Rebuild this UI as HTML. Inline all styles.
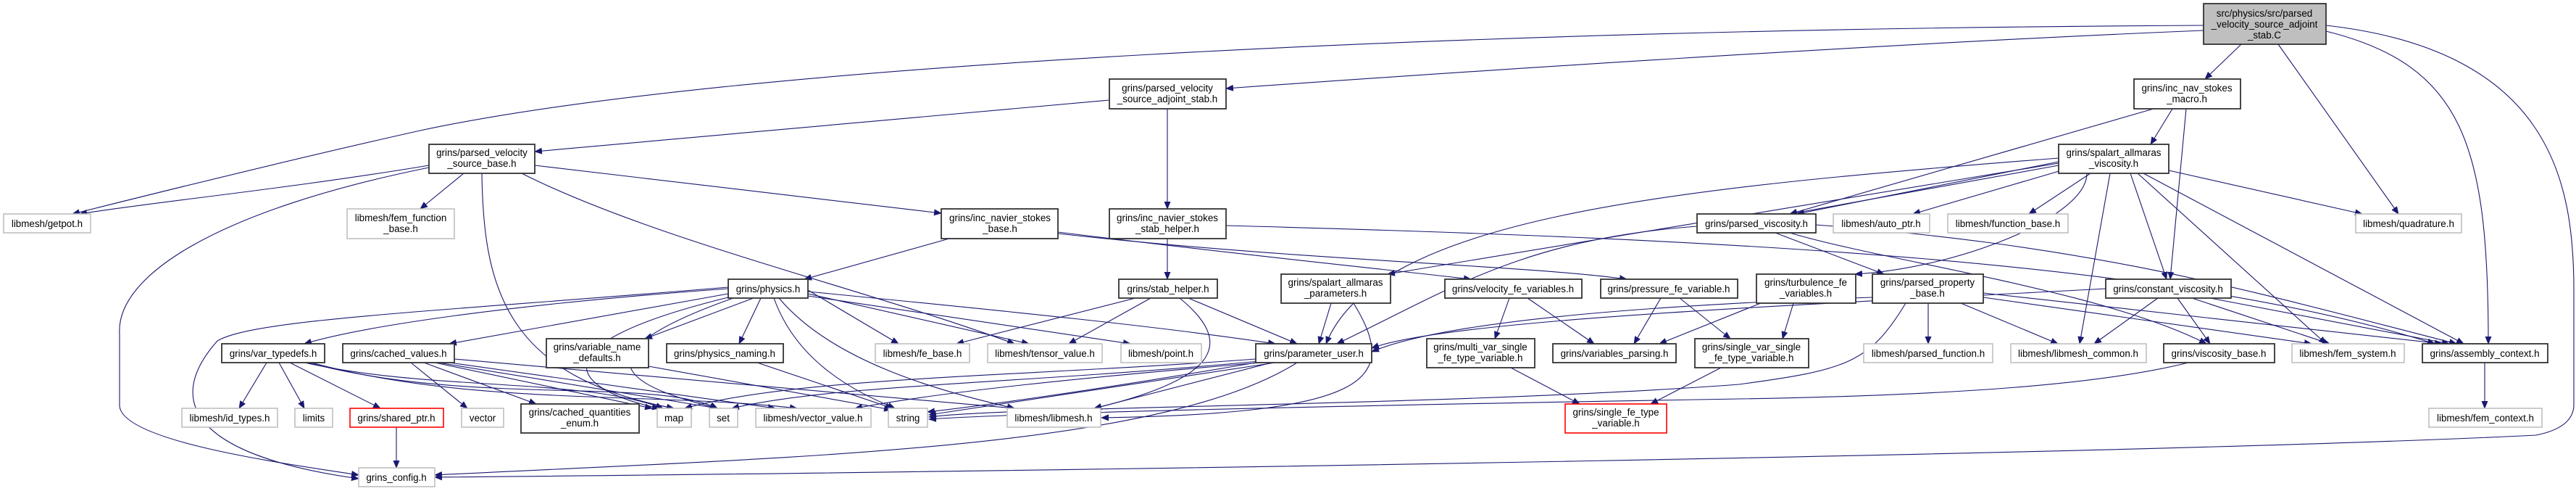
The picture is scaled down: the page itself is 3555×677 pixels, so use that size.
<!DOCTYPE html>
<html><head><meta charset="utf-8"><style>
html,body{margin:0;padding:0;background:#fff;}
svg{display:block;}
text{font-family:"Liberation Sans",sans-serif;font-size:13.4px;fill:#000;}
.n rect{fill:#fff;stroke:#333;stroke-width:1.8;}
.g rect{fill:#fff;stroke:#bfbfbf;stroke-width:1.6;}
.r rect{fill:#fff;stroke:#ff0000;stroke-width:1.6;}
.e path{fill:none;stroke:#191970;stroke-width:1.1;marker-end:url(#a);}
</style></head><body>
<svg width="3555" height="677" viewBox="0 0 3555 677" xmlns="http://www.w3.org/2000/svg">
<defs><marker id="a" markerUnits="userSpaceOnUse" markerWidth="11" markerHeight="9" refX="10" refY="4.5" orient="auto"><path d="M0,0 L11,4.5 L0,9 z" fill="#191970"/></marker></defs>
<g class="e">
<path d="M3041,35 C2000,40 1000,90 580,180 C400,220 200,270 100,295"/>
<path d="M3041,42 C2600,60 2000,100 1692,122"/>
<path d="M3093,61 L3043,109"/>
<path d="M3144,61 L3310,295"/>
<path d="M3210,43 C3400,90 3434,200 3434,474"/>
<path d="M3210,35 C3520,70 3552,250 3552,400 L3552,560 Q3550,590 3500,600 C3000,625 1500,650 600,658"/>
<path d="M1531,138 L738,209"/>
<path d="M1611,150 L1611,288"/>
<path d="M592,228 C400,260 200,280 110,295"/>
<path d="M640,239 L580,288"/>
<path d="M592,231 C300,290 160,380 165,460 L165,560 C170,610 400,640 495,655"/>
<path d="M665,239 C667,400 700,520 930,563"/>
<path d="M738,228 L1299,294"/>
<path d="M720,239 C900,330 1200,400 1400,474"/>
<path d="M1310,329 L1110,385"/>
<path d="M1460,320 C1700,350 1900,370 2030,385"/>
<path d="M1460,322 C1800,360 2100,365 2245,385"/>
<path d="M1611,329 L1611,385"/>
<path d="M1692,311 C2400,330 3000,360 3360,474"/>
<path d="M1567,411 L1320,474"/>
<path d="M1588,411 L1475,474"/>
<path d="M1640,411 L1790,474"/>
<path d="M1628,411 C1700,470 1690,520 1510,563"/>
<path d="M1837,418 L1820,474"/>
<path d="M1868,418 C1930,520 1900,570 1520,576"/>
<path d="M2083,411 L2063,467"/>
<path d="M2108,411 L2200,474"/>
<path d="M2292,411 L2255,474"/>
<path d="M2318,411 L2388,467"/>
<path d="M2085,507 L2180,557"/>
<path d="M2375,507 L2278,557"/>
<path d="M1733,500 C1500,540 1350,560 1280,568"/>
<path d="M1760,500 L1282,572"/>
<path d="M1733,495 C1400,520 1100,520 945,563"/>
<path d="M1738,498 C1400,530 1150,530 1010,563"/>
<path d="M1740,500 C1500,520 1300,540 1180,563"/>
<path d="M1755,500 L1510,563"/>
<path d="M1790,500 C1600,620 1100,630 600,655"/>
<path d="M1005,398 C700,420 500,450 420,474"/>
<path d="M1005,405 L620,474"/>
<path d="M1040,411 L890,467"/>
<path d="M1050,411 L1020,474"/>
<path d="M1005,396 C600,430 350,440 300,470 C220,560 280,630 495,660"/>
<path d="M1115,400 L1240,474"/>
<path d="M1115,405 L1420,474"/>
<path d="M1115,408 L1560,474"/>
<path d="M1115,402 C1400,430 1600,450 1760,474"/>
<path d="M1068,411 C1100,500 1180,540 1235,563"/>
<path d="M1075,411 C1150,500 1300,540 1400,563"/>
<path d="M1005,410 C720,480 800,540 910,563"/>
<path d="M1012,411 C760,500 900,540 990,563"/>
<path d="M368,500 L330,563"/>
<path d="M385,500 L420,563"/>
<path d="M400,500 L525,563"/>
<path d="M420,500 C600,540 800,520 915,563"/>
<path d="M425,500 C650,560 900,520 990,563"/>
<path d="M430,500 C650,560 900,540 1100,563"/>
<path d="M567,500 L645,563"/>
<path d="M585,500 L740,557"/>
<path d="M600,500 L900,563"/>
<path d="M605,500 L990,563"/>
<path d="M620,500 L1070,563"/>
<path d="M627,495 L1400,563"/>
<path d="M895,505 L1230,565"/>
<path d="M1045,500 L1232,563"/>
<path d="M547,589 L547,645"/>
<path d="M2998,150 L2968,199"/>
<path d="M2972,150 L2470,295"/>
<path d="M3017,150 L2995,385"/>
<path d="M2841,223 L2480,295"/>
<path d="M2841,228 L2470,295"/>
<path d="M2845,235 L2640,295"/>
<path d="M2885,239 L2800,295"/>
<path d="M2993,235 L3260,295"/>
<path d="M2841,218 C2300,260 1900,300 1830,474"/>
<path d="M2841,225 L1915,378"/>
<path d="M2880,239 C2880,300 2700,370 2560,378"/>
<path d="M2940,239 L2990,385"/>
<path d="M2912,239 L2870,474"/>
<path d="M2950,239 L3210,474"/>
<path d="M2958,239 L3400,474"/>
<path d="M2450,321 L2600,378"/>
<path d="M2342,312 C2100,330 2000,400 1845,474"/>
<path d="M2470,321 C2600,360 2900,400 3045,474"/>
<path d="M2506,310 C2900,340 3100,400 3390,474"/>
<path d="M2430,418 L2290,474"/>
<path d="M2475,418 L2460,467"/>
<path d="M2584,410 C2300,420 2000,440 1893,485"/>
<path d="M2661,418 L2661,474"/>
<path d="M2706,418 L2840,474"/>
<path d="M2737,410 L3190,474"/>
<path d="M2737,404 L3370,474"/>
<path d="M2630,418 C2580,500 2550,510 2400,530 C2000,560 1400,560 1282,575"/>
<path d="M2906,398 C2500,420 2000,440 1893,480"/>
<path d="M2978,411 L2890,474"/>
<path d="M3005,411 L3050,474"/>
<path d="M3025,411 L3215,474"/>
<path d="M3050,411 L3380,474"/>
<path d="M3020,500 C2900,530 2700,545 2400,550 C1800,560 1400,570 1282,578"/>
<path d="M3429,500 L3429,563"/>
</g>
<g text-anchor="middle">
<g class="n"><rect x="3041" y="5" width="169" height="56" style="fill:#bfbfbf"/><text x="3125" y="23">src/physics/src/parsed</text><text x="3125" y="38">_velocity_source_adjoint</text><text x="3125" y="53">_stab.C</text></g>
<g class="n"><rect x="1531" y="109" width="161" height="41"/><text x="1611" y="126">grins/parsed_velocity</text><text x="1611" y="141">_source_adjoint_stab.h</text></g>
<g class="n"><rect x="2945" y="109" width="147" height="41"/><text x="3018" y="126">grins/inc_nav_stokes</text><text x="3018" y="141">_macro.h</text></g>
<g class="n"><rect x="592" y="199" width="146" height="40"/><text x="665" y="215">grins/parsed_velocity</text><text x="665" y="230">_source_base.h</text></g>
<g class="n"><rect x="2841" y="199" width="152" height="40"/><text x="2917" y="215">grins/spalart_allmaras</text><text x="2917" y="230">_viscosity.h</text></g>
<g class="g"><rect x="5" y="295" width="120" height="26"/><text x="65" y="313">libmesh/getpot.h</text></g>
<g class="g"><rect x="479" y="288" width="148" height="41"/><text x="553" y="305">libmesh/fem_function</text><text x="553" y="320">_base.h</text></g>
<g class="n"><rect x="1299" y="288" width="161" height="41"/><text x="1380" y="305">grins/inc_navier_stokes</text><text x="1380" y="320">_base.h</text></g>
<g class="n"><rect x="1531" y="288" width="161" height="41"/><text x="1611" y="305">grins/inc_navier_stokes</text><text x="1611" y="320">_stab_helper.h</text></g>
<g class="n"><rect x="2342" y="295" width="164" height="26"/><text x="2424" y="313">grins/parsed_viscosity.h</text></g>
<g class="g"><rect x="2530" y="295" width="133" height="26"/><text x="2596" y="313">libmesh/auto_ptr.h</text></g>
<g class="g"><rect x="2688" y="295" width="166" height="26"/><text x="2771" y="313">libmesh/function_base.h</text></g>
<g class="g"><rect x="3251" y="295" width="146" height="26"/><text x="3324" y="313">libmesh/quadrature.h</text></g>
<g class="n"><rect x="1005" y="385" width="110" height="26"/><text x="1060" y="403">grins/physics.h</text></g>
<g class="n"><rect x="1544" y="385" width="136" height="26"/><text x="1612" y="403">grins/stab_helper.h</text></g>
<g class="n"><rect x="1768" y="378" width="151" height="40"/><text x="1843" y="394">grins/spalart_allmaras</text><text x="1843" y="409">_parameters.h</text></g>
<g class="n"><rect x="1994" y="385" width="189" height="26"/><text x="2088" y="403">grins/velocity_fe_variables.h</text></g>
<g class="n"><rect x="2209" y="385" width="189" height="26"/><text x="2303" y="403">grins/pressure_fe_variable.h</text></g>
<g class="n"><rect x="2424" y="378" width="137" height="40"/><text x="2492" y="394">grins/turbulence_fe</text><text x="2492" y="409">_variables.h</text></g>
<g class="n"><rect x="2584" y="378" width="153" height="40"/><text x="2660" y="394">grins/parsed_property</text><text x="2660" y="409">_base.h</text></g>
<g class="n"><rect x="2906" y="385" width="173" height="26"/><text x="2992" y="403">grins/constant_viscosity.h</text></g>
<g class="n"><rect x="306" y="474" width="142" height="26"/><text x="377" y="492">grins/var_typedefs.h</text></g>
<g class="n"><rect x="473" y="474" width="154" height="26"/><text x="550" y="492">grins/cached_values.h</text></g>
<g class="n"><rect x="754" y="467" width="141" height="40"/><text x="824" y="483">grins/variable_name</text><text x="824" y="498">_defaults.h</text></g>
<g class="n"><rect x="920" y="474" width="161" height="26"/><text x="1000" y="492">grins/physics_naming.h</text></g>
<g class="g"><rect x="1208" y="474" width="130" height="26"/><text x="1273" y="492">libmesh/fe_base.h</text></g>
<g class="g"><rect x="1363" y="474" width="158" height="26"/><text x="1442" y="492">libmesh/tensor_value.h</text></g>
<g class="g"><rect x="1547" y="474" width="111" height="26"/><text x="1602" y="492">libmesh/point.h</text></g>
<g class="n"><rect x="1733" y="474" width="160" height="26"/><text x="1813" y="492">grins/parameter_user.h</text></g>
<g class="n"><rect x="1969" y="467" width="149" height="40"/><text x="2043" y="483">grins/multi_var_single</text><text x="2043" y="498">_fe_type_variable.h</text></g>
<g class="n"><rect x="2143" y="474" width="170" height="26"/><text x="2228" y="492">grins/variables_parsing.h</text></g>
<g class="n"><rect x="2339" y="467" width="157" height="40"/><text x="2417" y="483">grins/single_var_single</text><text x="2417" y="498">_fe_type_variable.h</text></g>
<g class="g"><rect x="2572" y="474" width="178" height="26"/><text x="2661" y="492">libmesh/parsed_function.h</text></g>
<g class="g"><rect x="2775" y="474" width="187" height="26"/><text x="2868" y="492">libmesh/libmesh_common.h</text></g>
<g class="n"><rect x="2986" y="474" width="153" height="26"/><text x="3062" y="492">grins/viscosity_base.h</text></g>
<g class="g"><rect x="3163" y="474" width="155" height="26"/><text x="3240" y="492">libmesh/fem_system.h</text></g>
<g class="n"><rect x="3343" y="474" width="173" height="26"/><text x="3429" y="492">grins/assembly_context.h</text></g>
<g class="g"><rect x="251" y="563" width="132" height="26"/><text x="317" y="581">libmesh/id_types.h</text></g>
<g class="g"><rect x="407" y="563" width="52" height="26"/><text x="433" y="581">limits</text></g>
<g class="r"><rect x="483" y="563" width="129" height="26"/><text x="547" y="581">grins/shared_ptr.h</text></g>
<g class="g"><rect x="637" y="563" width="58" height="26"/><text x="666" y="581">vector</text></g>
<g class="n"><rect x="719" y="557" width="163" height="40"/><text x="800" y="573">grins/cached_quantities</text><text x="800" y="588">_enum.h</text></g>
<g class="g"><rect x="907" y="563" width="47" height="26"/><text x="930" y="581">map</text></g>
<g class="g"><rect x="979" y="563" width="39" height="26"/><text x="998" y="581">set</text></g>
<g class="g"><rect x="1043" y="563" width="159" height="26"/><text x="1122" y="581">libmesh/vector_value.h</text></g>
<g class="g"><rect x="1226" y="563" width="54" height="26"/><text x="1253" y="581">string</text></g>
<g class="g"><rect x="1390" y="563" width="129" height="26"/><text x="1454" y="581">libmesh/libmesh.h</text></g>
<g class="r"><rect x="2160" y="557" width="140" height="40"/><text x="2230" y="573">grins/single_fe_type</text><text x="2230" y="588">_variable.h</text></g>
<g class="g"><rect x="3352" y="563" width="156" height="26"/><text x="3430" y="581">libmesh/fem_context.h</text></g>
<g class="g"><rect x="495" y="645" width="105" height="26"/><text x="547" y="663">grins_config.h</text></g>
</g>
</svg>
</body></html>
